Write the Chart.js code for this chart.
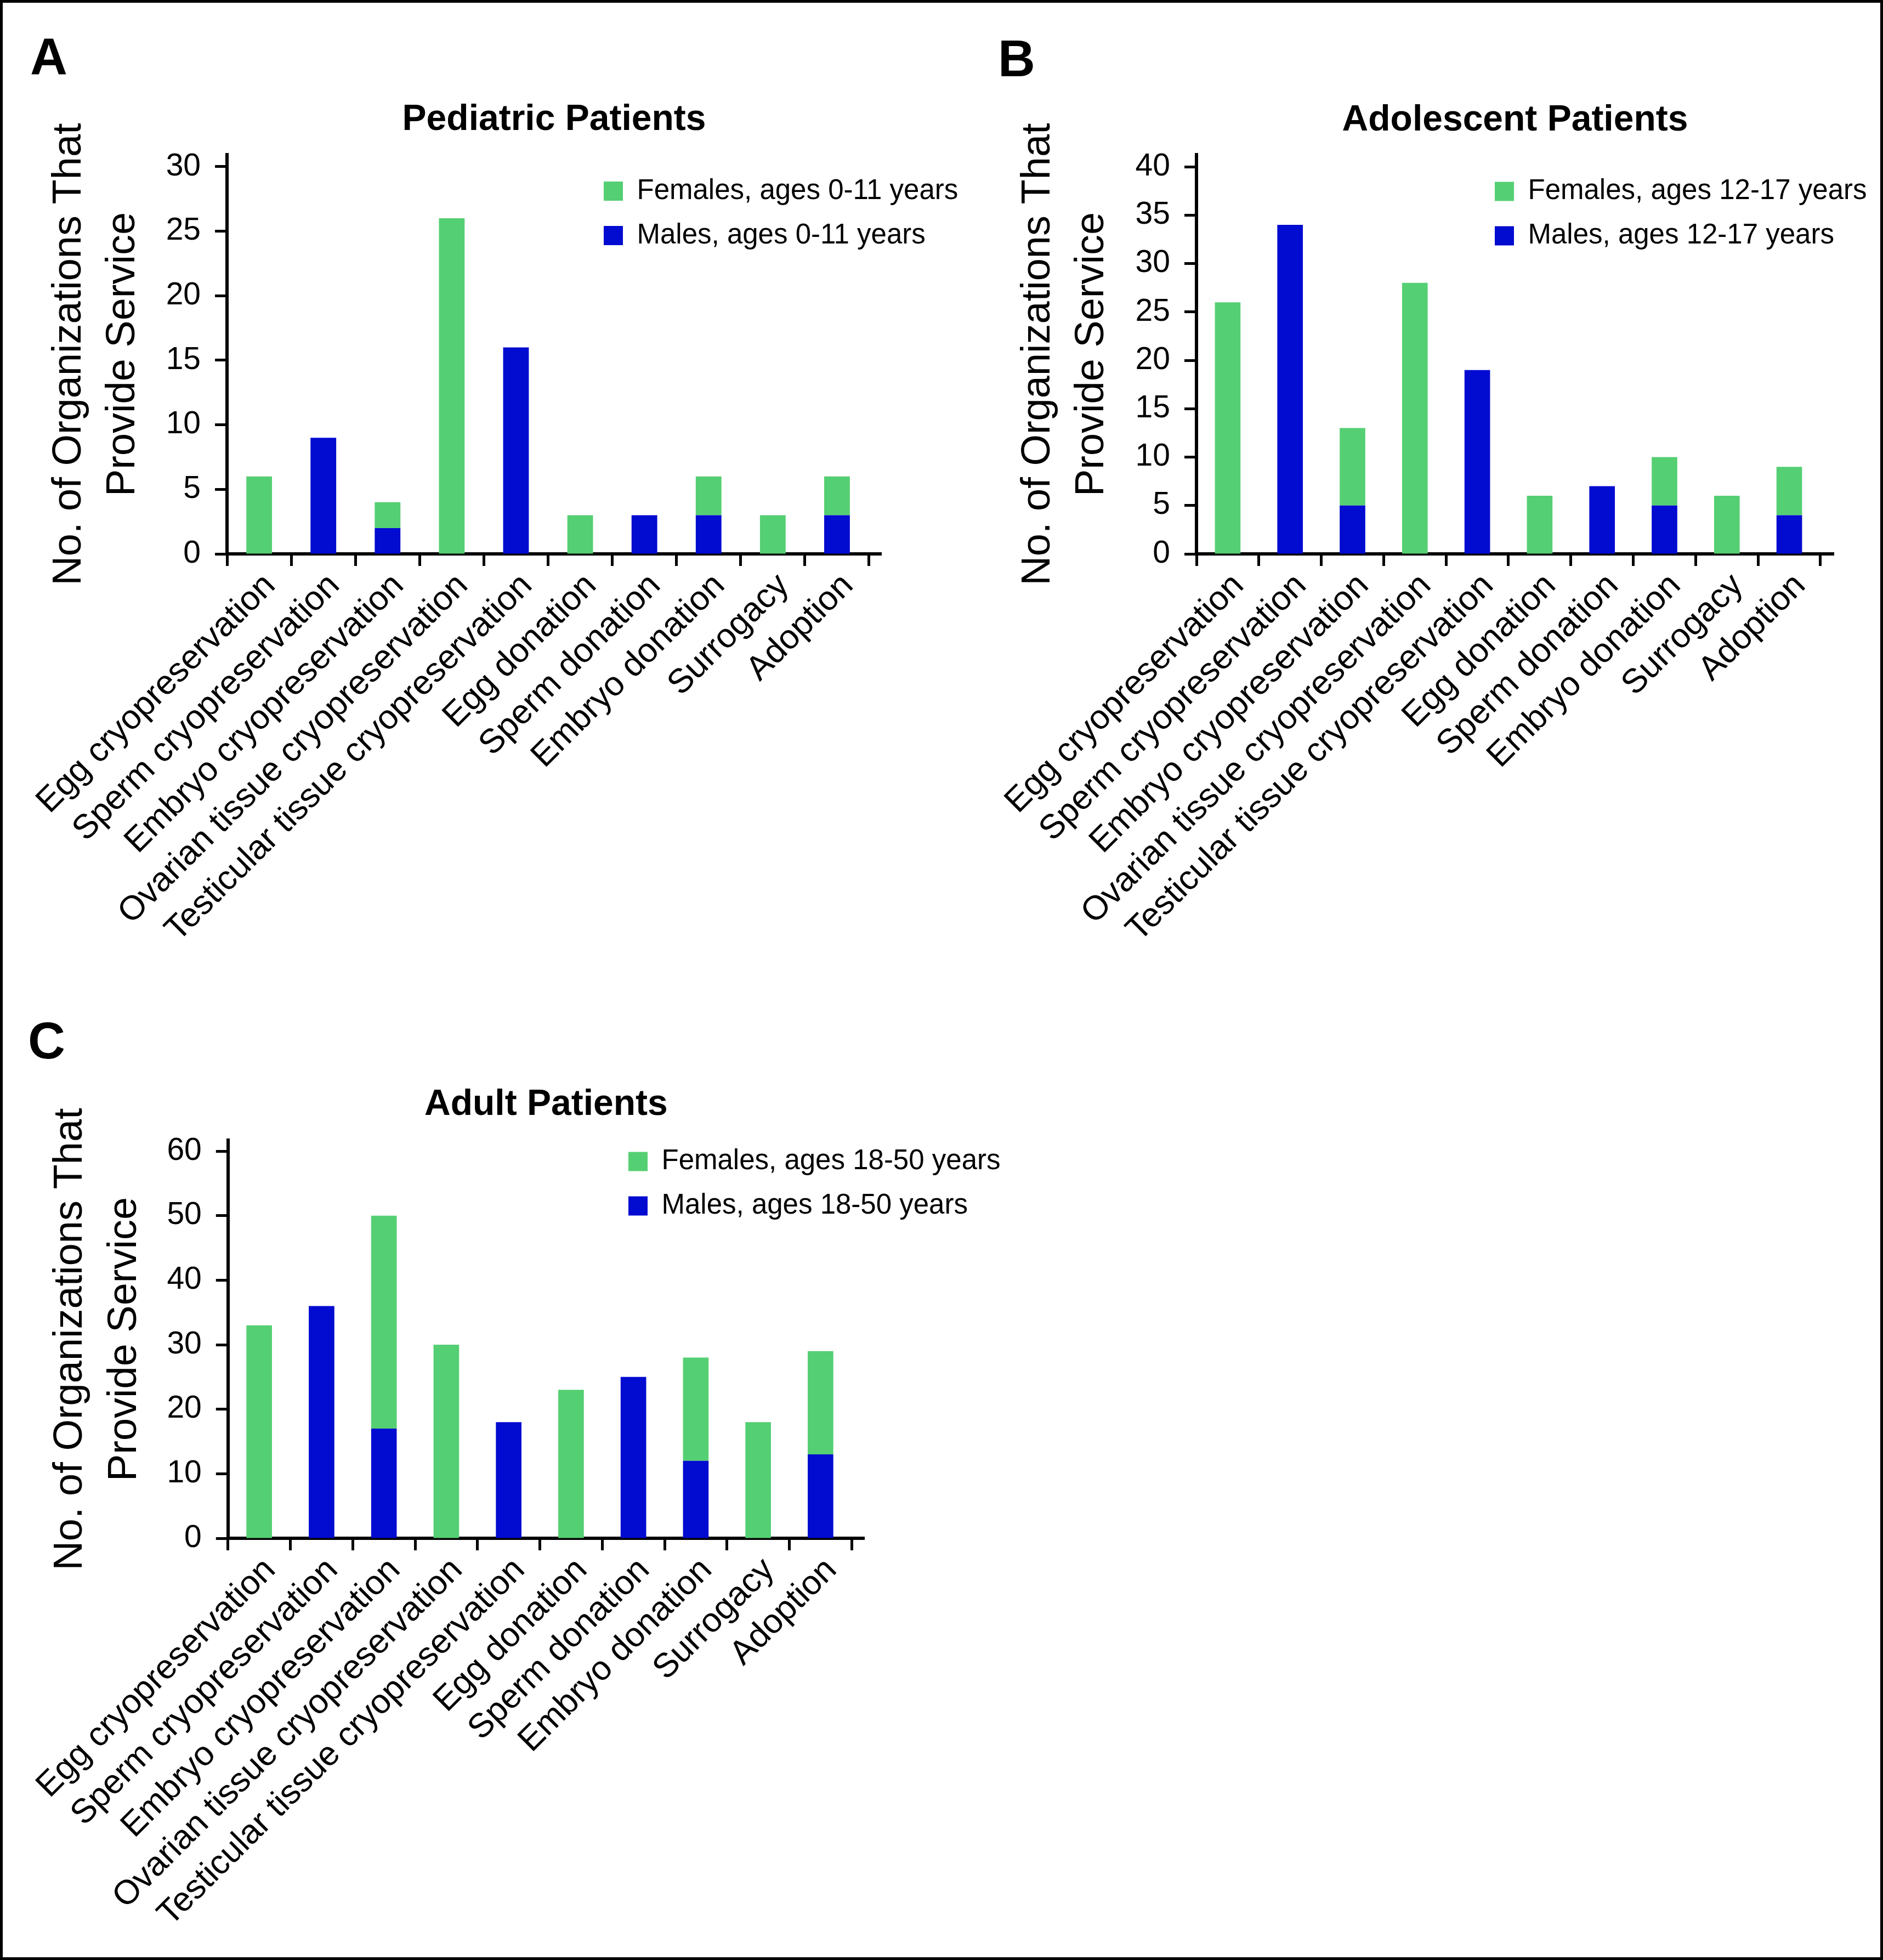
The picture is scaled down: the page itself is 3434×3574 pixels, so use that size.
<!DOCTYPE html>
<html>
<head>
<meta charset="utf-8">
<script src="https://cdn.jsdelivr.net/npm/chart.js@4.4.0/dist/chart.umd.min.js"></script>
<style>
  body { margin: 0; background: #fff; }
  #page { position: relative; width: 3434px; height: 3574px; background: #fff; overflow: hidden; }
  #frame { position: absolute; left: 0; top: 0; width: 3434px; height: 3574px; box-sizing: border-box; border: 5px solid #000; pointer-events: none; }
  canvas { position: absolute; }
  .panel-letter { position: absolute; font-family: 'Liberation Sans', Arial, sans-serif; font-weight: bold; font-size: 94px; line-height: 1; color: #000; }
</style>
</head>
<body>
<div id="page">
  <div class="panel-letter" style="left:55px;top:57px">A</div>
  <div class="panel-letter" style="left:1820px;top:60px">B</div>
  <div class="panel-letter" style="left:51px;top:1851px">C</div>
  <canvas id="chart-a" width="1750" height="1620" style="left:40px;top:140px"></canvas>
  <canvas id="chart-b" width="1630" height="1620" style="left:1790px;top:140px"></canvas>
  <canvas id="chart-c" width="1800" height="1625" style="left:40px;top:1935px"></canvas>
  <div id="frame"></div>
</div>
<script>
const services = [
    'Egg cryopreservation',
    'Sperm cryopreservation',
    'Embryo cryopreservation',
    'Ovarian tissue cryopreservation',
    'Testicular tissue cryopreservation',
    'Egg donation',
    'Sperm donation',
    'Embryo donation',
    'Surrogacy',
    'Adoption'
];

// counts per service (females stacked on top of males)
const pediatricFemales = [6, 0, 2, 26, 0, 3, 0, 3, 3, 3];
const pediatricMales = [0, 9, 2, 0, 16, 0, 3, 3, 0, 3];
const adolescentFemales = [26, 0, 8, 28, 0, 6, 0, 5, 6, 5];
const adolescentMales = [0, 34, 5, 0, 19, 0, 7, 5, 0, 4];
const adultFemales = [33, 0, 33, 30, 0, 23, 0, 16, 18, 16];
const adultMales = [0, 36, 17, 0, 18, 0, 25, 12, 0, 13];

const pediatricTicks = [0, 5, 10, 15, 20, 25, 30];
const adolescentTicks = [0, 5, 10, 15, 20, 25, 30, 35, 40];
const adultTicks = [0, 10, 20, 30, 40, 50, 60];

const GREEN = '#55cf73';
const BLUE = '#020bd0';
const FONT = "'Liberation Sans', Arial, Helvetica, sans-serif";

// puts the legend inside the plot, top right
const legendPlacer = {
    id: 'legendPlacer',
    beforeDraw(chart, args, opts) {
        const legend = chart.legend;
        if (!legend || opts.x === undefined) return;
        const pad = legend.options.labels.padding;
        legend.left = opts.x - pad;
        legend.top = opts.y - pad;
        legend.right = chart.width;
        legend.bottom = chart.height;
        legend.width = legend.right - legend.left;
        legend.height = legend.bottom - legend.top;
    }
};

function makeChart(id, cfg) {
    const ctx = document.getElementById(id).getContext('2d');
    return new Chart(ctx, {
        type: 'bar',
        data: {
            datasets: [
                {
                    label: cfg.maleLabel,
                    data: cfg.males.map((v, i) => ({ x: i, y: v })),
                    backgroundColor: BLUE,
                    borderWidth: 0
                },
                {
                    label: cfg.femaleLabel,
                    data: cfg.females.map((v, i) => ({ x: i, y: v })),
                    backgroundColor: GREEN,
                    borderWidth: 0
                }
            ]
        },
        options: {
            responsive: false,
            animation: false,
            events: [],
            barPercentage: 1,
            categoryPercentage: cfg.barFrac,
            layout: { padding: { left: 0, top: 0, bottom: 0, right: cfg.padRight } },
            scales: {
                x: {
                    type: 'linear',
                    stacked: true,
                    offset: false,
                    min: -0.5,
                    max: cfg.xMax,
                    afterBuildTicks: (axis) => {
                        axis.ticks = services.map((s, i) => ({ value: i }));
                    },
                    afterFit: (scale) => { scale.height = cfg.xHeight; },
                    grid: {
                        offset: true,
                        drawOnChartArea: false,
                        drawTicks: true,
                        tickLength: 22,
                        tickWidth: 5,
                        tickColor: '#000'
                    },
                    border: { display: true, color: '#000', width: 6 },
                    ticks: {
                        autoSkip: false,
                        minRotation: 45,
                        maxRotation: 45,
                        padding: 0,
                        labelOffset: 20,
                        color: '#000',
                        font: { family: FONT, size: 62 },
                        callback: (v) => services[v]
                    }
                },
                y: {
                    stacked: true,
                    min: 0,
                    max: cfg.yMax,
                    afterBuildTicks: (axis) => {
                        axis.ticks = cfg.ticks.map(v => ({ value: v }));
                    },
                    afterFit: (scale) => { scale.width = cfg.yWidth; },
                    grid: {
                        drawOnChartArea: false,
                        drawTicks: true,
                        tickLength: 22,
                        tickWidth: 5,
                        tickColor: '#000'
                    },
                    border: { display: true, color: '#000', width: 6 },
                    ticks: {
                        padding: 26,
                        color: '#000',
                        font: { family: FONT, size: 57 }
                    },
                    title: {
                        display: true,
                        text: ['No. of Organizations That', 'Provide Service'],
                        color: '#000',
                        font: { family: FONT, size: 74, lineHeight: 1.33 },
                        padding: { top: cfg.yTitlePad, bottom: 0 }
                    }
                }
            },
            plugins: {
                tooltip: { enabled: false },
                title: {
                    display: true,
                    text: cfg.title,
                    fullSize: false,
                    color: '#000',
                    font: { family: FONT, size: 66, weight: 'bold', lineHeight: 1.2 },
                    padding: cfg.titlePad
                },
                legend: {
                    display: true,
                    position: 'chartArea',
                    align: 'start',
                    reverse: true,
                    labels: {
                        boxWidth: 35,
                        boxHeight: 35,
                        padding: 30,
                        color: '#000',
                        font: { family: FONT, size: 51 }
                    }
                },
                legendPlacer: cfg.legendPos
            }
        },
        plugins: [legendPlacer]
    });
}

makeChart('chart-a', {
    title: 'Pediatric Patients',
    femaleLabel: 'Females, ages 0-11 years',
    maleLabel: 'Males, ages 0-11 years',
    females: pediatricFemales,
    males: pediatricMales,
    ticks: pediatricTicks,
    yMax: 30.93,
    xMax: 9.688,
    barFrac: 0.40,
    padRight: 183,
    yWidth: 373,
    xHeight: 750,
    yTitlePad: 36,
    titlePad: { top: 39.4, bottom: 23.4 },
    legendPos: { x: 1061, y: 183 }
});

makeChart('chart-b', {
    title: 'Adolescent Patients',
    femaleLabel: 'Females, ages 12-17 years',
    maleLabel: 'Males, ages 12-17 years',
    females: adolescentFemales,
    males: adolescentMales,
    ticks: adolescentTicks,
    yMax: 41.25,
    xMax: 9.711,
    barFrac: 0.41,
    padRight: 76,
    yWidth: 392,
    xHeight: 750,
    yTitlePad: 54,
    titlePad: { top: 40.4, bottom: 22.4 },
    legendPos: { x: 936, y: 183.5 }
});

makeChart('chart-c', {
    title: 'Adult Patients',
    femaleLabel: 'Females, ages 18-50 years',
    maleLabel: 'Males, ages 18-50 years',
    females: adultFemales,
    males: adultMales,
    ticks: adultTicks,
    yMax: 61.7,
    xMax: 9.70,
    barFrac: 0.41,
    padRight: 264,
    yWidth: 373,
    xHeight: 755,
    yTitlePad: 37,
    titlePad: { top: 40.4, bottom: 24.4 },
    legendPos: { x: 1106, y: 157.5 }
});
</script>
</body>
</html>
